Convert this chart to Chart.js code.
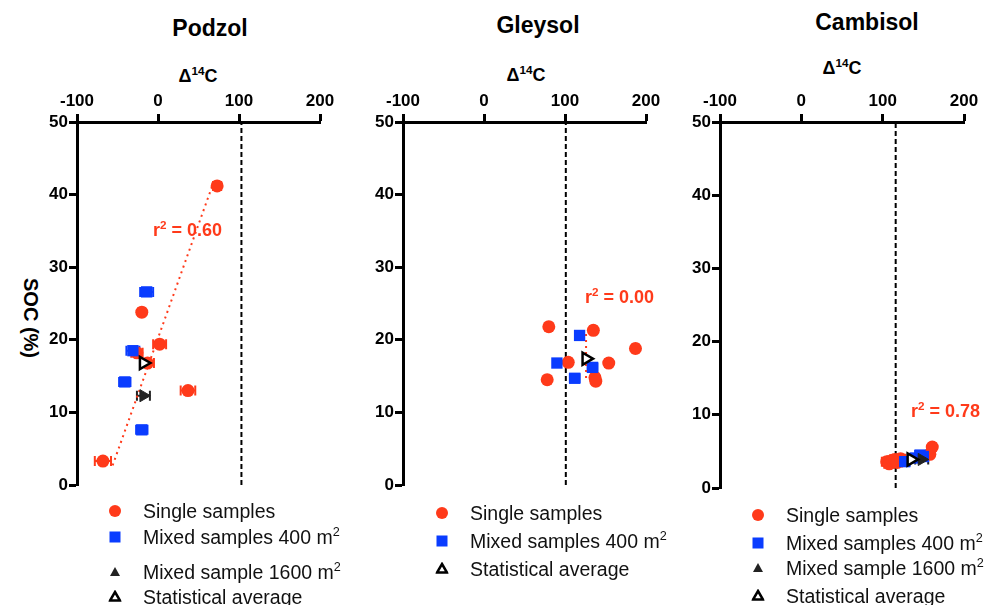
<!DOCTYPE html>
<html>
<head>
<meta charset="utf-8">
<script src="https://cdn.jsdelivr.net/npm/chart.js@4.4.1/dist/chart.umd.min.js"></script>
<style>
  body { margin: 0; background: #fff; font-family: "Liberation Sans", Arial, sans-serif; }
  #page { position: relative; width: 992px; height: 605px; overflow: hidden; }
  .box { position: absolute; }
  .title { position: absolute; font-weight: bold; font-size: 23px; transform: translate(-50%, -50%); white-space: nowrap; }
  .axtitle { position: absolute; font-weight: bold; font-size: 18px; transform: translate(-50%, -50%); white-space: nowrap; }
  .axtitle sup, .r2 sup, .leg sup { font-size: 0.65em; line-height: 0; }
  .r2 { position: absolute; font-weight: bold; font-size: 18px; color: #ff3a1a; transform: translateY(-50%); white-space: nowrap; }
  .leg { position: absolute; font-size: 19.5px; transform: translateY(-50%); white-space: nowrap; color: #111; }
  .mk { position: absolute; transform: translate(-50%, -50%); }
  .soc { position: absolute; left: 30px; top: 318px; font-weight: bold; font-size: 20px; transform: translate(-50%, -50%) rotate(90deg); white-space: nowrap; }
</style>
</head>
<body>
<div id="page">
  <div class="title" style="left:210px; top:28px;">Podzol</div>
  <div class="title" style="left:538px; top:25px;">Gleysol</div>
  <div class="title" style="left:867px; top:22px;">Cambisol</div>

  <div class="axtitle" style="left:198px; top:76px;">&Delta;<sup>14</sup>C</div>
  <div class="axtitle" style="left:526px; top:75px;">&Delta;<sup>14</sup>C</div>
  <div class="axtitle" style="left:842px; top:68px;">&Delta;<sup>14</sup>C</div>

  <div class="soc">SOC (%)</div>

  <div class="box" style="left:0px; top:80px; width:340px; height:420px;"><canvas id="podzol" width="340" height="420"></canvas></div>
  <div class="box" style="left:326px; top:80px; width:340px; height:420px;"><canvas id="gleysol" width="340" height="420"></canvas></div>
  <div class="box" style="left:643px; top:80px; width:341px; height:423px;"><canvas id="cambisol" width="341" height="423"></canvas></div>

  <div class="r2" style="left:153px; top:230px;">r<sup>2</sup> = 0.60</div>
  <div class="r2" style="left:585px; top:297px;">r<sup>2</sup> = 0.00</div>
  <div class="r2" style="left:911px; top:411px;">r<sup>2</sup> = 0.78</div>

  <div id="legends"></div>
</div>

<script>
// Podzol
const podzolSingleX = [73, -20, 2, -26, -13, 37, -68];
const podzolSingleY = [41.2, 23.8, 19.4, 18.2, 16.8, 13.0, 3.3];
const podzolSingleErr = [5, 4, 8, 7, 8, 9, 10];
const podzolMixedX = [-14, -31, -41, -20];
const podzolMixedY = [26.6, 18.5, 14.2, 7.6];
const podzolMixedErr = [8, 8, 7, 7];
const podzolBigX = [-18];
const podzolBigY = [12.3];
const podzolBigErr = [8];
const podzolAvgX = [-18];
const podzolAvgY = [16.8];
const podzolFitX = [-56, 67];
const podzolFitY = [2.7, 41.2];
const podzolRef = 103;

// Gleysol
const gleySingleX = [80, 135, 187, 104, 154, 78, 137, 138];
const gleySingleY = [21.8, 21.3, 18.8, 16.9, 16.8, 14.5, 14.8, 14.3];
const gleySingleErr = [4, 4, 4, 4, 4, 4, 4, 4];
const gleyMixedX = [118, 90, 134, 112];
const gleyMixedY = [20.6, 16.8, 16.2, 14.7];
const gleyMixedErr = [5, 3, 6, 6];
const gleyAvgX = [126];
const gleyAvgY = [17.4];
const gleyFitX = [126, 126];
const gleyFitY = [20.8, 14.3];
const gleyRef = 101;

// Cambisol
const cambSingleX = [105, 108, 112, 115, 118, 122, 158, 161];
const cambSingleY = [3.6, 3.3, 3.8, 3.9, 3.5, 4.0, 4.6, 5.6];
const cambSingleErr = [6, 6, 6, 6, 6, 6, 4, 4];
const cambMixedX = [127, 140, 146, 150];
const cambMixedY = [3.6, 4.1, 4.5, 4.3];
const cambMixedErr = [6, 6, 6, 6];
const cambBigX = [148];
const cambBigY = [3.9];
const cambBigErr = [8];
const cambAvgX = [135];
const cambAvgY = [3.9];
const cambFitX = [106, 160];
const cambFitY = [3.2, 5.5];
const cambRef = 116;

const xTicks = [-100, 0, 100, 200];
const yTicks = [0, 10, 20, 30, 40, 50];

const RED = "#ff3a1a";
const BLUE = "#0a3cff";
const DARK = "#222222";

function toPoints(xs, ys) {
  return xs.map((x, i) => ({ x: x, y: ys[i] }));
}

// horizontal error bars with caps, drawn under the markers
const errorBars = {
  id: "errorBars",
  beforeDatasetsDraw(chart) {
    const ctx = chart.ctx;
    const xs = chart.scales.x;
    chart.data.datasets.forEach((ds, i) => {
      if (!ds.xErr) return;
      const meta = chart.getDatasetMeta(i);
      ctx.save();
      ctx.strokeStyle = ds.backgroundColor;
      ctx.lineWidth = 2;
      meta.data.forEach((pt, j) => {
        const d = ds.data[j];
        const x1 = xs.getPixelForValue(d.x - ds.xErr[j]);
        const x2 = xs.getPixelForValue(d.x + ds.xErr[j]);
        const y = pt.y;
        ctx.beginPath();
        ctx.moveTo(x1, y); ctx.lineTo(x2, y);
        ctx.moveTo(x1, y - 5); ctx.lineTo(x1, y + 5);
        ctx.moveTo(x2, y - 5); ctx.lineTo(x2, y + 5);
        ctx.stroke();
      });
      ctx.restore();
    });
  }
};

function makePanel(id, p) {
  const datasets = [];
  if (p.avgX) {
    datasets.push({
      data: toPoints(p.avgX, p.avgY), pointStyle: "triangle", rotation: 90,
      radius: 7, backgroundColor: "#fff", borderColor: "#000", borderWidth: 2.5
    });
  }
  if (p.bigX) {
    datasets.push({
      data: toPoints(p.bigX, p.bigY), xErr: p.bigErr, pointStyle: "triangle", rotation: 90,
      radius: 7, backgroundColor: DARK, borderColor: DARK, borderWidth: 1
    });
  }
  datasets.push({
    data: toPoints(p.mixedX, p.mixedY), xErr: p.mixedErr, pointStyle: "rect",
    radius: 8, backgroundColor: BLUE, borderColor: BLUE, borderWidth: 0
  });
  datasets.push({
    data: toPoints(p.singleX, p.singleY), xErr: p.singleErr, pointStyle: "circle",
    radius: 6.5, backgroundColor: RED, borderColor: RED, borderWidth: 0
  });
  datasets.push({
    type: "line", data: toPoints(p.fitX, p.fitY), borderColor: RED, borderWidth: 2,
    borderDash: [2, 4], pointRadius: 0, fill: false
  });
  datasets.push({
    type: "line", data: [{ x: p.ref, y: 0 }, { x: p.ref, y: 50 }], borderColor: "#000",
    borderWidth: 2, borderDash: [5, 3], pointRadius: 0, fill: false
  });

  const tickFont = { family: "'Liberation Sans', Arial, sans-serif", size: 17, weight: "bold" };

  return new Chart(document.getElementById(id), {
    type: "scatter",
    data: { datasets: datasets },
    plugins: [errorBars],
    options: {
      responsive: false,
      animation: false,
      layout: { padding: { right: 20, bottom: p.padBottom } },
      plugins: { legend: { display: false }, tooltip: { enabled: false } },
      scales: {
        x: {
          type: "linear", position: "top", min: -100, max: 200,
          afterBuildTicks: (s) => { s.ticks = xTicks.map(v => ({ value: v })); },
          afterFit: (s) => { s.height = 42; },
          border: { display: true, color: "#000", width: 3 },
          grid: { drawOnChartArea: false, drawTicks: true, tickLength: 8, color: "#000", tickWidth: 3 },
          ticks: { color: "#000", font: tickFont, padding: 2, maxRotation: 0 }
        },
        y: {
          type: "linear", position: "left", min: 0, max: 50,
          afterBuildTicks: (s) => { s.ticks = yTicks.map(v => ({ value: v })); },
          afterFit: (s) => { s.width = 77; },
          border: { display: true, color: "#000", width: 3 },
          grid: { drawOnChartArea: false, drawTicks: true, tickLength: 8, color: "#000", tickWidth: 3 },
          ticks: { color: "#000", font: tickFont, padding: 1 }
        }
      }
    }
  });
}

makePanel("podzol", {
  singleX: podzolSingleX, singleY: podzolSingleY, singleErr: podzolSingleErr,
  mixedX: podzolMixedX, mixedY: podzolMixedY, mixedErr: podzolMixedErr,
  bigX: podzolBigX, bigY: podzolBigY, bigErr: podzolBigErr,
  avgX: podzolAvgX, avgY: podzolAvgY,
  fitX: podzolFitX, fitY: podzolFitY, ref: podzolRef, padBottom: 15
});
makePanel("gleysol", {
  singleX: gleySingleX, singleY: gleySingleY, singleErr: gleySingleErr,
  mixedX: gleyMixedX, mixedY: gleyMixedY, mixedErr: gleyMixedErr,
  avgX: gleyAvgX, avgY: gleyAvgY,
  fitX: gleyFitX, fitY: gleyFitY, ref: gleyRef, padBottom: 15
});
makePanel("cambisol", {
  singleX: cambSingleX, singleY: cambSingleY, singleErr: cambSingleErr,
  mixedX: cambMixedX, mixedY: cambMixedY, mixedErr: cambMixedErr,
  bigX: cambBigX, bigY: cambBigY, bigErr: cambBigErr,
  avgX: cambAvgX, avgY: cambAvgY,
  fitX: cambFitX, fitY: cambFitY, ref: cambRef, padBottom: 15
});

// legends (HTML, so the m² superscript stays real text)
const markers = {
  single: '<div style="width:12px;height:12px;border-radius:50%;background:' + RED + '"></div>',
  mixed: '<div style="width:11px;height:11px;background:' + BLUE + '"></div>',
  big: '<svg width="12" height="11"><polygon points="6,1 11,10 1,10" fill="' + DARK + '"/></svg>',
  avg: '<svg width="13" height="12"><polygon points="6.5,2 11.5,10.5 1.5,10.5" fill="#fff" stroke="#000" stroke-width="2.5"/></svg>'
};
const labels = {
  single: "Single samples",
  mixed: "Mixed samples 400 m<sup>2</sup>",
  big: "Mixed sample 1600 m<sup>2</sup>",
  avg: "Statistical average"
};
const legendRows = [
  { mx: 115, tx: 143, rows: [["single", 511], ["mixed", 537], ["big", 572], ["avg", 597]] },
  { mx: 442, tx: 470, rows: [["single", 513], ["mixed", 541], ["avg", 569]] },
  { mx: 758, tx: 786, rows: [["single", 515], ["mixed", 543], ["big", 568], ["avg", 596]] }
];
let html = "";
legendRows.forEach((g) => {
  g.rows.forEach(([k, y]) => {
    html += '<div class="mk" style="left:' + g.mx + 'px;top:' + y + 'px;">' + markers[k] + '</div>';
    html += '<div class="leg" style="left:' + g.tx + 'px;top:' + y + 'px;">' + labels[k] + '</div>';
  });
});
document.getElementById("legends").innerHTML = html;
</script>
</body>
</html>
